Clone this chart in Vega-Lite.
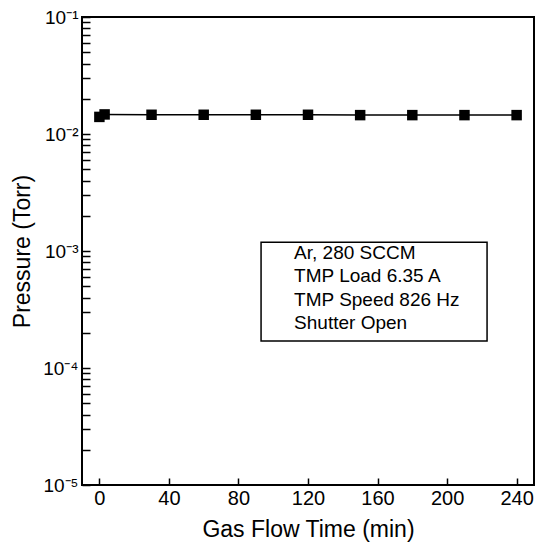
{
  "$schema": "https://vega.github.io/schema/vega-lite/v6.json",
  "width": 452,
  "height": 468,
  "autosize": "none",
  "padding": {"left": 82, "top": 17, "right": 10, "bottom": 61},
  "background": "white",
  "config": {
    "font": "Liberation Sans",
    "view": {"stroke": "black", "strokeWidth": 2},
    "axis": {"grid": false, "domain": false, "labelFont": "Liberation Sans", "titleFont": "Liberation Sans", "labelColor": "black", "titleColor": "black", "titleFontWeight": "normal", "tickColor": "black", "tickWidth": 1.5}
  },
  "datasets": {
    "series": [
      {"t": 0, "p": 0.0140},
      {"t": 3, "p": 0.0147},
      {"t": 30, "p": 0.0146},
      {"t": 60, "p": 0.0146},
      {"t": 90, "p": 0.0146},
      {"t": 120, "p": 0.0146},
      {"t": 150, "p": 0.0145},
      {"t": 180, "p": 0.0145},
      {"t": 210, "p": 0.0145},
      {"t": 240, "p": 0.0145}
    ],
    "box": [{"x1": 93, "x2": 223, "y1": 0.00017, "y2": 0.00119}],
    "notes": [
      {"label": "Ar, 280 SCCM", "x": 112, "y": 0.00096},
      {"label": "TMP Load 6.35 A", "x": 112, "y": 0.00061},
      {"label": "TMP Speed 826 Hz", "x": 112, "y": 0.00038},
      {"label": "Shutter Open", "x": 112, "y": 0.000243}
    ]
  },
  "layer": [
    {
      "data": {"name": "series"},
      "mark": {"type": "line", "color": "black", "strokeWidth": 1.5},
      "encoding": {
        "x": {
          "field": "t", "type": "quantitative",
          "scale": {"domain": [-10, 250], "nice": false, "zero": false},
          "axis": {
            "title": "Gas Flow Time (min)",
            "titleFontSize": 23,
            "titleY": 44,
            "titleBaseline": "middle",
            "values": [0, 20, 40, 60, 80, 100, 120, 140, 160, 180, 200, 220, 240],
            "labelExpr": "datum.value % 40 == 0 ? datum.label : ''",
            "labelFontSize": 20,
            "labelPadding": 10,
            "tickSize": -7,
            "encode": {"ticks": {"update": {"y2": {"signal": "datum.value % 40 == 0 ? -7 : -4"}}}}
          }
        },
        "y": {
          "field": "p", "type": "quantitative",
          "scale": {"type": "log", "domain": [0.00001, 0.1], "nice": false},
          "axis": {
            "title": "Pressure (Torr)",
            "titleFontSize": 23,
            "titleAngle": -90,
            "titleX": -60,
            "titleY": 234,
            "titleBaseline": "middle",
            "titleAlign": "center",
            "values": [0.00001, 0.00002, 0.00003, 0.00004, 0.00005, 0.00006, 0.00007, 0.00008, 0.00009, 0.0001, 0.0002, 0.0003, 0.0004, 0.0005, 0.0006, 0.0007, 0.0008, 0.0009, 0.001, 0.002, 0.003, 0.004, 0.005, 0.006, 0.007, 0.008, 0.009, 0.01, 0.02, 0.03, 0.04, 0.05, 0.06, 0.07, 0.08, 0.09, 0.1],
            "labelExpr": "abs(log(datum.value)/LN10 - round(log(datum.value)/LN10)) > 0.001 ? '' : round(log(datum.value)/LN10) == -1 ? '10⁻¹' : round(log(datum.value)/LN10) == -2 ? '10⁻²' : round(log(datum.value)/LN10) == -3 ? '10⁻³' : round(log(datum.value)/LN10) == -4 ? '10⁻⁴' : '10⁻⁵'",
            "labelFontSize": 19,
            "labelPadding": 12,
            "tickSize": -8,
            "encode": {"ticks": {"update": {"x2": {"signal": "abs(log(datum.value)/LN10 - round(log(datum.value)/LN10)) < 0.001 ? 8 : 4"}}}}
          }
        }
      }
    },
    {
      "data": {"name": "series"},
      "mark": {"type": "square", "color": "black", "filled": true, "opacity": 1, "size": 110},
      "encoding": {
        "x": {"field": "t", "type": "quantitative"},
        "y": {"field": "p", "type": "quantitative"}
      }
    },
    {
      "data": {"name": "box"},
      "mark": {"type": "rect", "fill": "white", "stroke": "black", "strokeWidth": 1.5},
      "encoding": {
        "x": {"field": "x1", "type": "quantitative"},
        "x2": {"field": "x2"},
        "y": {"field": "y1", "type": "quantitative"},
        "y2": {"field": "y2"}
      }
    },
    {
      "data": {"name": "notes"},
      "mark": {"type": "text", "align": "left", "baseline": "middle", "fontSize": 19, "font": "Liberation Sans", "color": "black"},
      "encoding": {
        "x": {"field": "x", "type": "quantitative"},
        "y": {"field": "y", "type": "quantitative"},
        "text": {"field": "label"}
      }
    }
  ]
}
